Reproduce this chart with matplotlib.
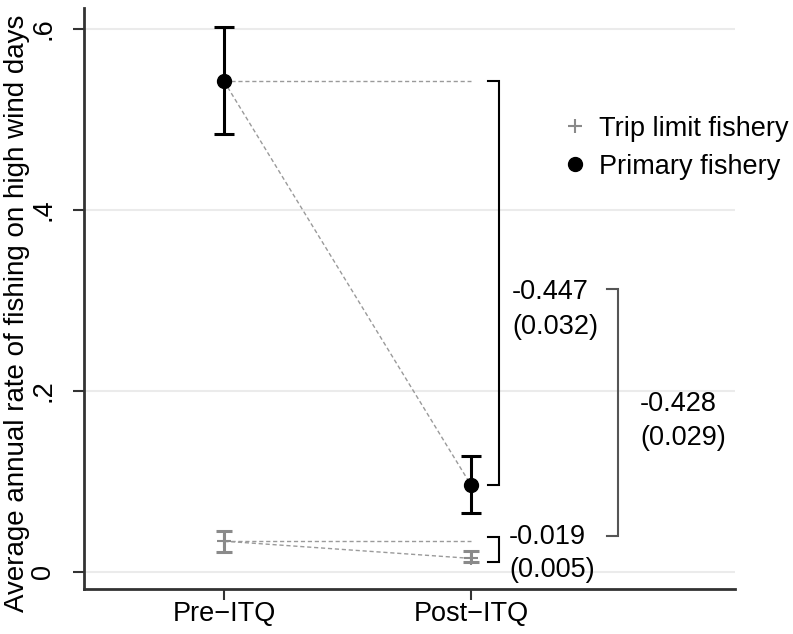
import numpy as np
import matplotlib
matplotlib.use('Agg')
import matplotlib.pyplot as plt

# Data
periods = ['Pre\u2212ITQ', 'Post\u2212ITQ']
primary_mean = [0.542, 0.096]
primary_lo = [0.484, 0.065]
primary_hi = [0.602, 0.128]
trip_mean = [0.034, 0.015]
trip_lo = [0.022, 0.011]
trip_hi = [0.045, 0.023]
diff_labels = ['-0.447\n(0.032)', '-0.019\n(0.005)', '-0.428\n(0.029)']

plt.rcParams['font.family'] = ['Liberation Sans', 'DejaVu Sans']
fs = 19.5
gray = '#8a8a8a'
dot = '#9a9a9a'

fig = plt.figure(figsize=(7.93, 6.34), dpi=100)
ax = fig.add_axes([0.1059, 0.071, 0.821, 0.9164])
x = np.arange(1, len(periods) + 1)

# grid
for v in [0, 0.2, 0.4, 0.6]:
    ax.axhline(v, color='#ebebeb', lw=1.5, zorder=0)

# dotted connectors
ax.plot([x[0], x[1]], [primary_mean[0], primary_mean[0]], ls=(0, (3, 2)), color=dot, lw=1)
ax.plot([x[0], x[1]], [primary_mean[0], primary_mean[1]], ls=(0, (3, 2)), color=dot, lw=1)
ax.plot([x[0], x[1]], [trip_mean[0], trip_mean[0]], ls=(0, (3, 2)), color=dot, lw=1)
ax.plot([x[0], x[1]], [trip_mean[0], trip_mean[1]], ls=(0, (3, 2)), color=dot, lw=1)

# error bars
pm = np.array(primary_mean); tm = np.array(trip_mean)
ax.errorbar(x, pm, yerr=[pm - np.array(primary_lo), np.array(primary_hi) - pm],
            fmt='none', ecolor='black', elinewidth=2.2, capsize=7, capthick=2.2, zorder=3)
ax.errorbar(x, tm, yerr=[tm - np.array(trip_lo), np.array(trip_hi) - tm],
            fmt='none', ecolor=gray, elinewidth=2.2, capsize=6, capthick=2.2, zorder=3)
ax.plot(x, tm, '+', color=gray, ms=10, mew=1.5, zorder=4, label='Trip limit fishery')
ax.plot(x, pm, 'o', color='black', ms=10, zorder=4, label='Primary fishery')

# brackets
def bracket(xr, xl, y0, y1, color):
    ax.plot([xl, xr, xr, xl], [y0, y0, y1, y1], color=color, lw=1.5, solid_joinstyle='miter')

bracket(2.113, 2.069, primary_mean[0], primary_mean[1], 'black')
bracket(2.113, 2.069, 0.039, 0.011, 'black')
bracket(2.595, 2.551, 0.313, 0.040, '#555555')

ax.text(2.166, 0.309, diff_labels[0].split('\n')[0], fontsize=fs, va='center', ha='left')
ax.text(2.166, 0.271, diff_labels[0].split('\n')[1], fontsize=fs, va='center', ha='left')
ax.text(2.154, 0.039, diff_labels[1].split('\n')[0], fontsize=fs, va='center', ha='left')
ax.text(2.154, 0.002, diff_labels[1].split('\n')[1], fontsize=fs, va='center', ha='left')
ax.text(2.684, 0.186, diff_labels[2].split('\n')[0], fontsize=fs, va='center', ha='left')
ax.text(2.684, 0.148, diff_labels[2].split('\n')[1], fontsize=fs, va='center', ha='left')

ax.set_xlim(0.433, 3.069)
ax.set_ylim(-0.0188, 0.623)
ax.set_xticks(x)
ax.set_xticklabels(periods, fontsize=fs)
ax.set_yticks([0, 0.2, 0.4, 0.6])
ax.set_yticklabels(['0', '.2', '.4', '.6'], fontsize=fs, rotation=90, va='center')
ax.tick_params(axis='x', length=8, width=1.5, pad=1, color='#333333')
ax.tick_params(axis='y', length=8, width=1.5, pad=12, color='#333333')
for s in ['top', 'right']:
    ax.spines[s].set_visible(False)
for s in ['left', 'bottom']:
    ax.spines[s].set_linewidth(2)
    ax.spines[s].set_color('#333333')
ax.set_ylabel('Average annual rate of fishing on high wind days', fontsize=fs + 0.5)
ax.yaxis.set_label_coords(-0.083, 0.475)

ax.legend(loc='center left', bbox_to_anchor=(0.7074, 0.767), bbox_transform=fig.transFigure,
          frameon=False, fontsize=fs, handlelength=1, handletextpad=0.4, borderpad=0,
          borderaxespad=0, labelspacing=0.45)

fig.savefig('out.png', dpi=100)
